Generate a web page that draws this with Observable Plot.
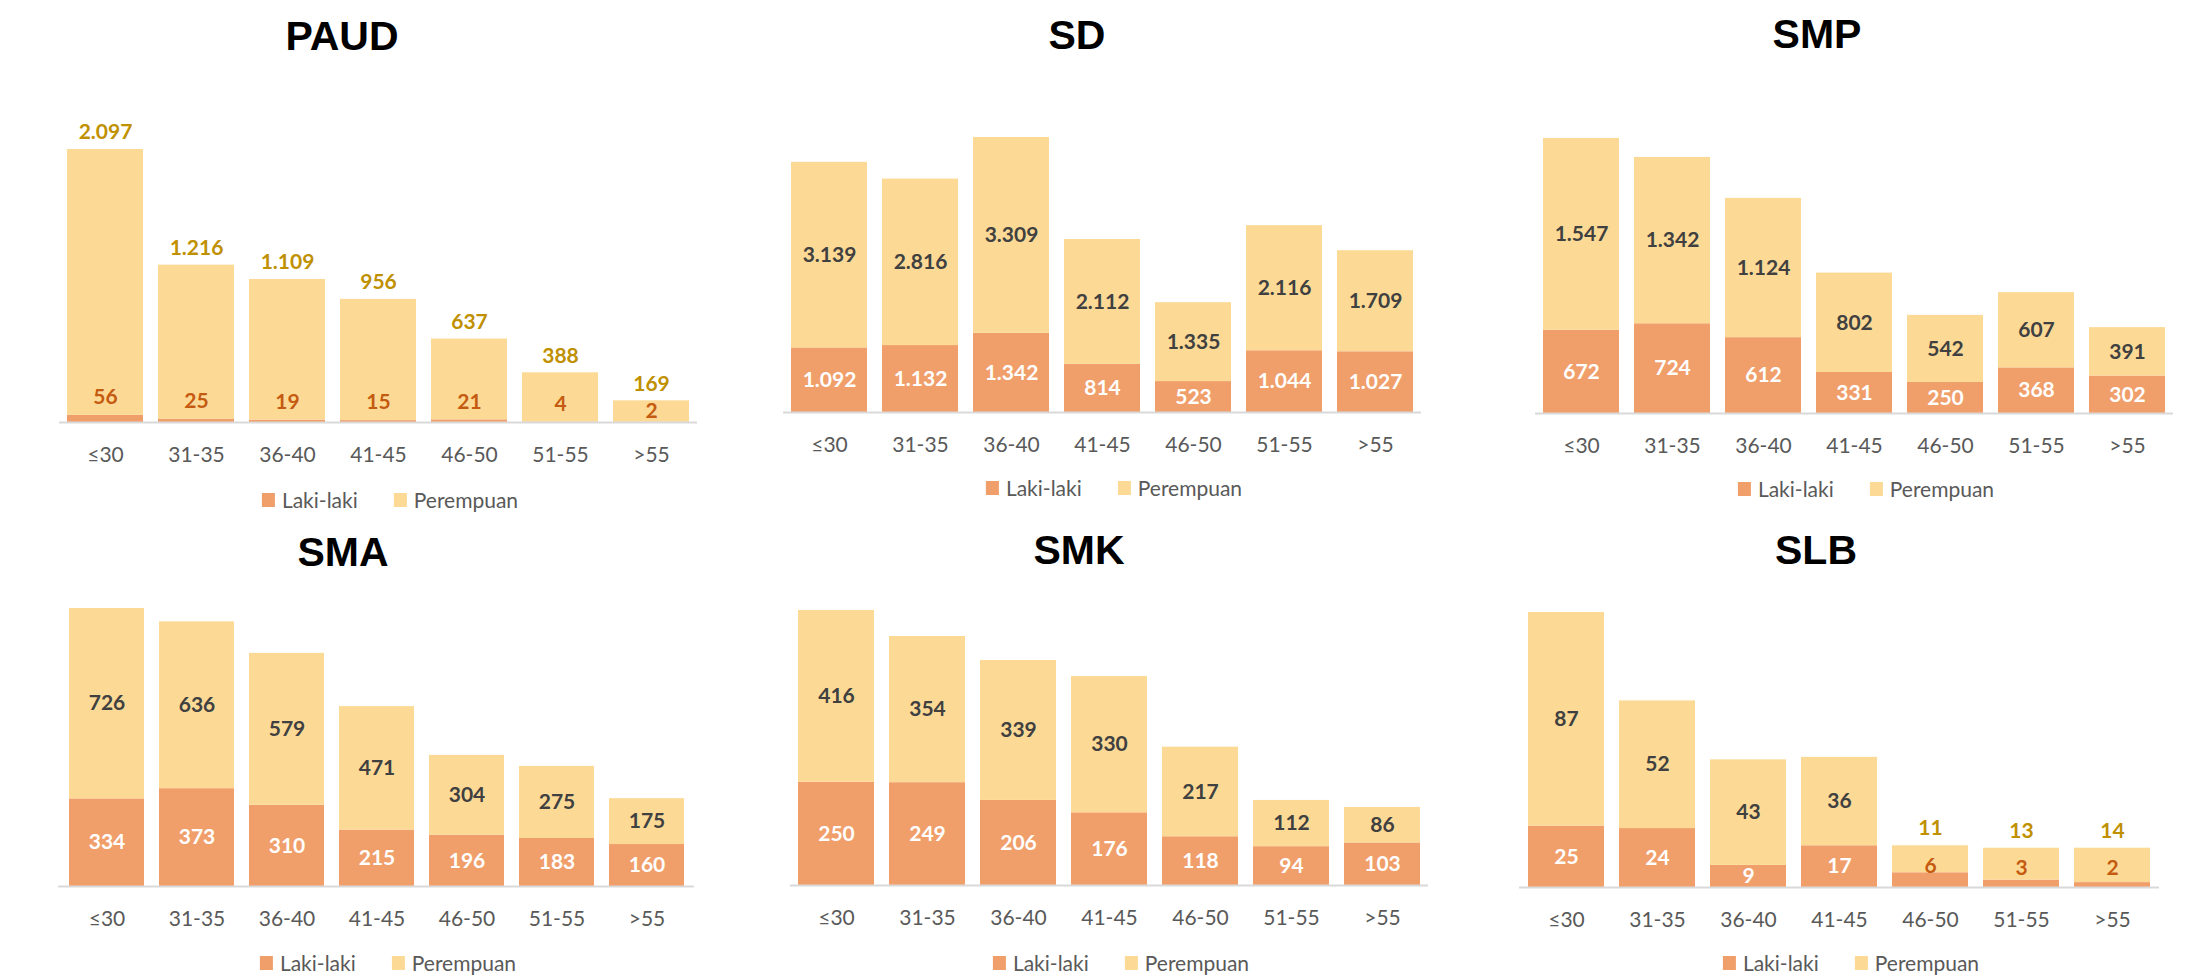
<!DOCTYPE html>
<html>
<head>
<meta charset="utf-8">
<script src="https://cdn.jsdelivr.net/npm/d3@7"></script>
<script src="https://cdn.jsdelivr.net/npm/@observablehq/plot@0.6"></script>
<style>
  html, body { margin: 0; padding: 0; background: #fff; }
  #root { position: relative; width: 2209px; height: 975px; overflow: hidden; background: #fff; }
  .panel-svg { position: absolute; }
  .title { position: absolute; font-family: "Liberation Sans", Arial, sans-serif; font-weight: bold; font-size: 41px; line-height: 41px; color: #000; transform: translateX(-50%); white-space: nowrap; }
  .legend { position: absolute; display: flex; align-items: center; transform: translateX(-50%); font-family: Lato, "Open Sans", sans-serif; font-size: 21px; line-height: 20px; color: #595959; white-space: nowrap; }
  .sw { display: inline-block; width: 13px; height: 14px; margin-right: 7px; }
  .gap { display: inline-block; width: 36px; }
</style>
</head>
<body>
<div id="root"></div>
<script>
// ---- data ----
const ages = ["≤30", "31-35", "36-40", "41-45", "46-50", "51-55", ">55"];
const levels = ["PAUD", "SD", "SMP", "SMA", "SMK", "SLB"];
const sexes = ["Laki-laki", "Perempuan"];

const lakiPAUD = [56, 25, 19, 15, 21, 4, 2];
const perempuanPAUD = [2097, 1216, 1109, 956, 637, 388, 169];
const lakiSD = [1092, 1132, 1342, 814, 523, 1044, 1027];
const perempuanSD = [3139, 2816, 3309, 2112, 1335, 2116, 1709];
const lakiSMP = [672, 724, 612, 331, 250, 368, 302];
const perempuanSMP = [1547, 1342, 1124, 802, 542, 607, 391];
const lakiSMA = [334, 373, 310, 215, 196, 183, 160];
const perempuanSMA = [726, 636, 579, 471, 304, 275, 175];
const lakiSMK = [250, 249, 206, 176, 118, 94, 103];
const perempuanSMK = [416, 354, 339, 330, 217, 112, 86];
const lakiSLB = [25, 24, 9, 17, 6, 3, 2];
const perempuanSLB = [87, 52, 43, 36, 11, 13, 14];

const lakiSeries = [lakiPAUD, lakiSD, lakiSMP, lakiSMA, lakiSMK, lakiSLB];
const perempuanSeries = [perempuanPAUD, perempuanSD, perempuanSMP, perempuanSMA, perempuanSMK, perempuanSLB];

// ---- layout / style (not data) ----
const colors = ["#F09E6A", "#FCDA96"];
const layout = [
  {axisStart: 59,   axisEnd: 697,  baseline: 422, barPx: 273, titleX: 342,  titleBase: 51,  legendY: 500},
  {axisStart: 783,  axisEnd: 1421, baseline: 412, barPx: 275, titleX: 1077, titleBase: 50,  legendY: 488},
  {axisStart: 1535, axisEnd: 2173, baseline: 413, barPx: 275, titleX: 1817, titleBase: 49,  legendY: 489},
  {axisStart: 58,   axisEnd: 694,  baseline: 886, barPx: 278, titleX: 343,  titleBase: 567, legendY: 963},
  {axisStart: 790,  axisEnd: 1428, baseline: 885, barPx: 275, titleX: 1079, titleBase: 565, legendY: 963},
  {axisStart: 1519, axisEnd: 2159, baseline: 887, barPx: 275, titleX: 1816, titleBase: 565, legendY: 963}
];

const fmt = d3.formatLocale({decimal: ",", thousands: ".", grouping: [3], currency: ["Rp", ""]}).format(",d");
const root = document.getElementById("root");

levels.forEach((level, i) => {
  const L = layout[i];
  const laki = lakiSeries[i], per = perempuanSeries[i];
  const rows = ages.flatMap((a, j) => [
    {age: a, sex: sexes[0], value: laki[j]},
    {age: a, sex: sexes[1], value: per[j]}
  ]);
  const totals = ages.map((a, j) => laki[j] + per[j]);
  const max = d3.max(totals);
  const k = L.barPx / max; // px per unit
  const labels = [];
  ages.forEach((a, j) => {
    if (laki[j] * k < 20) {
      labels.push({age: a, y: Math.min(laki[j] + 18 / k, totals[j] / 2), text: fmt(laki[j]), fill: "#C55A11"});
      labels.push({age: a, y: totals[j] + 17 / k, text: fmt(per[j]), fill: "#BF9000"});
    } else {
      labels.push({age: a, y: laki[j] / 2, text: fmt(laki[j]), fill: "#FFFFFF"});
      labels.push({age: a, y: laki[j] + per[j] / 2, text: fmt(per[j]), fill: "#404040"});
    }
  });

  const W = L.axisEnd - L.axisStart + 20;
  const H = 390, base = 330;
  const chart = Plot.plot({
    width: W, height: H,
    marginLeft: 10, marginRight: 10, marginTop: 0, marginBottom: H - base,
    style: {fontFamily: "Lato, 'Open Sans', sans-serif", background: "transparent", overflow: "visible"},
    x: {domain: ages, paddingInner: 0.17, paddingOuter: 0.085, label: null},
    y: {domain: [0, max], range: [base, base - L.barPx], axis: null},
    color: {domain: sexes, range: colors},
    marks: [
      Plot.barY(rows, {x: "age", y: "value", fill: "sex", insetLeft: 0, insetRight: 0}),
      Plot.ruleY([0], {stroke: "#D9D9D9", strokeWidth: 2}),
      Plot.axisX({tickSize: 0, tickPadding: 25, fontSize: 21, color: "#595959", label: null}),
      Plot.text(labels, {x: "age", y: "y", text: "text", fill: "fill", fontSize: 21, fontWeight: "bold"})
    ]
  });
  chart.classList.add("panel-svg");
  chart.style.left = (L.axisStart - 10) + "px";
  chart.style.top = (L.baseline - base) + "px";
  root.appendChild(chart);

  const t = document.createElement("div");
  t.className = "title";
  t.textContent = level;
  t.style.left = L.titleX + "px";
  t.style.top = (L.titleBase - 35) + "px";
  root.appendChild(t);

  const lg = document.createElement("div");
  lg.className = "legend";
  lg.style.left = ((L.axisStart + L.axisEnd) / 2 + 12) + "px";
  lg.style.top = (L.legendY - 10) + "px";
  sexes.forEach((s, si) => {
    const sw = document.createElement("span");
    sw.className = "sw";
    sw.style.background = colors[si];
    lg.appendChild(sw);
    const tx = document.createElement("span");
    tx.textContent = s;
    lg.appendChild(tx);
    if (si === 0) { const g = document.createElement("span"); g.className = "gap"; lg.appendChild(g); }
  });
  root.appendChild(lg);
});
</script>
</body>
</html>
